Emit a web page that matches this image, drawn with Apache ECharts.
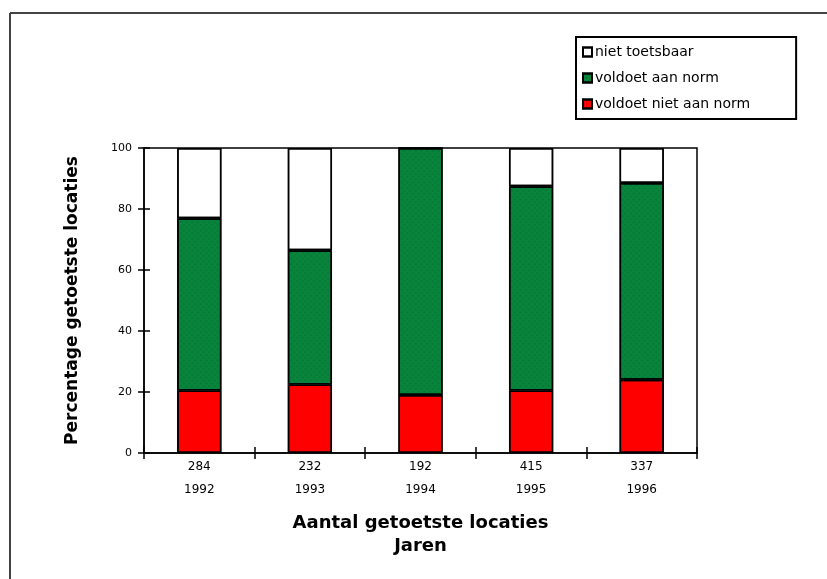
<!DOCTYPE html>
<html>
<head>
<meta charset="utf-8">
<script src="https://cdn.jsdelivr.net/npm/echarts@6/dist/echarts.min.js"></script>
<style>
  html, body { margin: 0; padding: 0; background: #fff; }
  #chart { width: 827px; height: 579px; }
</style>
</head>
<body>
<div id="chart"></div>
<script>
// Years and number of tested locations per year
const years = ['1992', '1993', '1994', '1995', '1996'];
const locationCounts = ['284', '232', '192', '415', '337'];

// Share of tested locations (%) per outcome, stacked bottom to top
const nietAanNorm = [20.5, 22.5, 19, 20.5, 24];
const aanNorm = [56.5, 44, 81, 67, 64.5];
const nietToetsbaar = [23, 33.5, 0, 12.5, 11.5];

// Value axis ticks
const yMin = 0, yMax = 100, yStep = 20;

const seriesNames = ['niet toetsbaar', 'voldoet aan norm', 'voldoet niet aan norm'];

const categories = years.map((y, i) => locationCounts[i] + '\n' + y);

const font = 'DejaVu Sans';
const chart = echarts.init(document.getElementById('chart'), null, { renderer: 'canvas' });

const noDecal = { symbol: 'none' };
const barStyle = (color, decal) => ({
  color: color, borderColor: '#000', borderWidth: 1.5, decal: decal || noDecal
});

// fine dotted texture on the green fill
const greenDecal = {
  symbol: 'rect',
  symbolSize: 0.6,
  color: 'rgba(0, 70, 50, 0.55)',
  dashArrayX: [[2, 2]],
  dashArrayY: [2, 2],
  rotation: Math.PI / 4
};

chart.setOption({
  animation: false,
  backgroundColor: '#fff',
  aria: { enabled: true, decal: { show: true } },
  grid: {
    left: 144, right: 130, top: 148, bottom: 126,
    show: true, borderColor: '#000', borderWidth: 1.5, backgroundColor: 'transparent'
  },
  legend: {
    orient: 'vertical',
    left: 576, top: 37,
    data: seriesNames,
    icon: 'rect',
    itemWidth: 9, itemHeight: 9,
    itemGap: 10,
    padding: [7, 46, 7, 6],
    borderColor: '#000', borderWidth: 2,
    backgroundColor: '#fff',
    textStyle: { fontFamily: font, fontSize: 14, color: '#000', lineHeight: 16, padding: [0, 0, 0, -2] }
  },
  xAxis: [{
    type: 'category',
    data: categories,
    position: 'bottom',
    axisLine: { lineStyle: { color: '#000', width: 1.5 } },
    axisTick: { show: true, length: 6, alignWithLabel: false, lineStyle: { color: '#000', width: 1.5 } },
    axisLabel: { fontFamily: font, fontSize: 12, color: '#000', lineHeight: 23, margin: 2 },
    name: 'Aantal getoetste locaties\nJaren',
    nameLocation: 'middle',
    nameGap: 59,
    nameTextStyle: { fontFamily: font, fontSize: 18, fontWeight: 'bold', color: '#000', lineHeight: 23 }
  }, {
    type: 'category',
    data: categories,
    position: 'bottom',
    axisLine: { show: false },
    axisTick: { show: true, inside: true, length: 6, alignWithLabel: false, lineStyle: { color: '#000', width: 1.5 } },
    axisLabel: { show: false }
  }],
  yAxis: [{
    type: 'value',
    min: yMin, max: yMax, interval: yStep,
    position: 'left',
    splitLine: { show: false },
    axisLine: { show: true, lineStyle: { color: '#000', width: 1.5 } },
    axisTick: { show: true, length: 6, lineStyle: { color: '#000', width: 1.5 } },
    axisLabel: { fontFamily: font, fontSize: 11, color: '#000', margin: 12 },
    name: 'Percentage getoetste locaties',
    nameLocation: 'middle',
    nameGap: 63,
    nameTextStyle: { fontFamily: font, fontSize: 17, fontWeight: 'bold', color: '#000' }
  }, {
    type: 'value',
    min: yMin, max: yMax, interval: yStep,
    position: 'left',
    splitLine: { show: false },
    axisLine: { show: false },
    axisTick: { show: true, inside: true, length: 6, lineStyle: { color: '#000', width: 1.5 } },
    axisLabel: { show: false }
  }],
  series: [{
    name: seriesNames[2], type: 'bar', stack: 'pct', data: nietAanNorm,
    barWidth: '40%', itemStyle: barStyle('#ff0000')
  }, {
    name: seriesNames[1], type: 'bar', stack: 'pct', data: aanNorm,
    barWidth: '40%', itemStyle: barStyle('#08843b', greenDecal)
  }, {
    name: seriesNames[0], type: 'bar', stack: 'pct', data: nietToetsbaar,
    barWidth: '40%', itemStyle: barStyle('#ffffff')
  }],
  graphic: [
    { type: 'line', shape: { x1: 10, y1: 13, x2: 827, y2: 13 }, style: { stroke: '#444', lineWidth: 2 } },
    { type: 'line', shape: { x1: 10, y1: 13, x2: 10, y2: 579 }, style: { stroke: '#444', lineWidth: 2 } }
  ]
});
</script>
</body>
</html>
